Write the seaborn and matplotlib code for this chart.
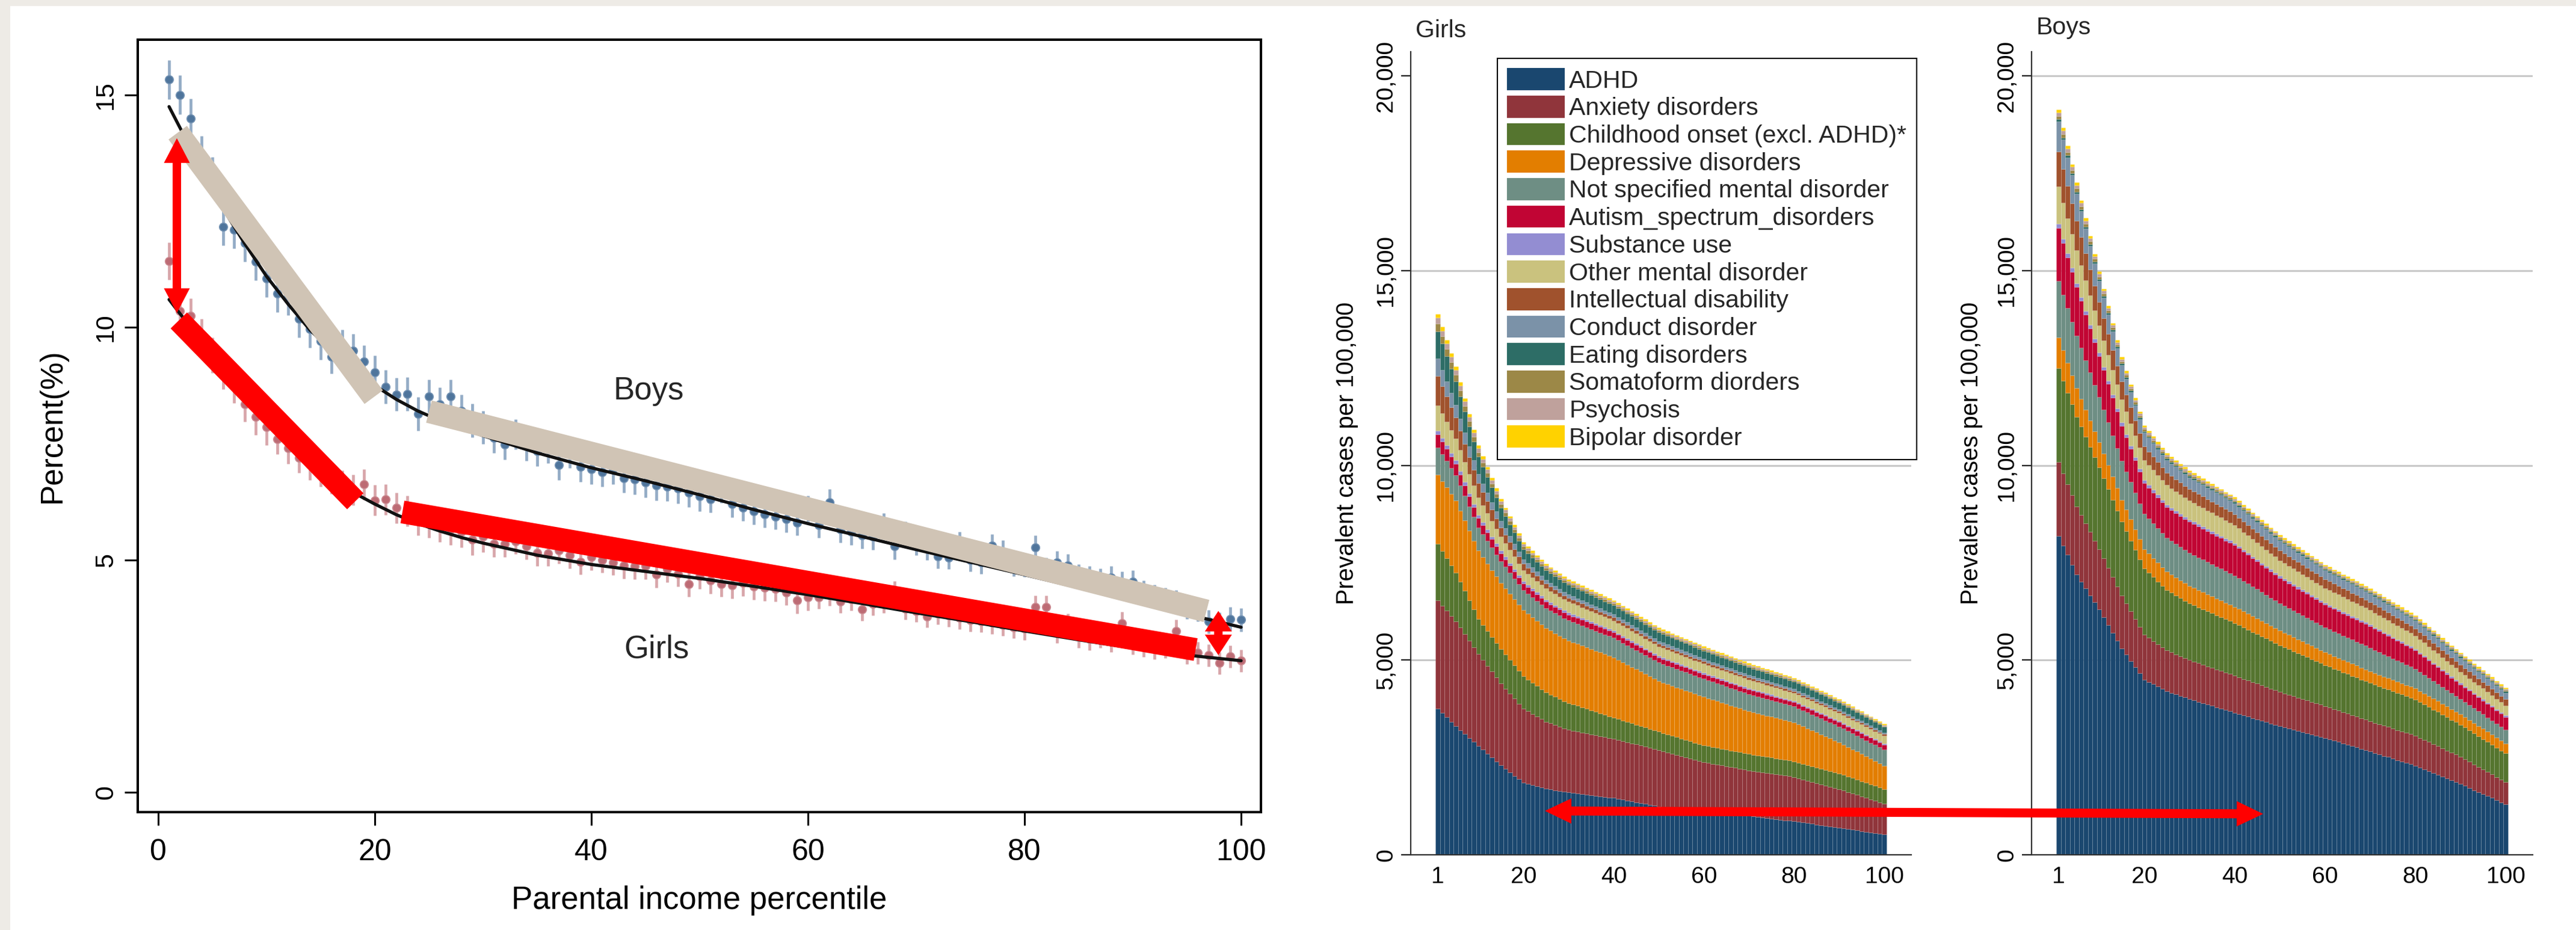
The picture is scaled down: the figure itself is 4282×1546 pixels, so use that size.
import numpy as np
import pandas as pd
import matplotlib
matplotlib.use("Agg")
import matplotlib.pyplot as plt
import seaborn as sns
from matplotlib.patches import Polygon, Rectangle, Patch
from matplotlib.transforms import IdentityTransform
from matplotlib.ticker import StrMethodFormatter

# ------------------------------------------------------------------
# Left panel: prevalence (%) by parental income percentile
# ------------------------------------------------------------------
pct = list(range(1, 101))

boys_mean = [15.33, 15.0, 14.5, 13.7, 13.25, 12.16, 12.1, 11.81, 11.41, 11.05,
             10.73, 10.66, 10.18, 9.97, 9.7, 9.37, 9.59, 9.5, 9.26, 9.03,
             8.72, 8.56, 8.57, 8.14, 8.52, 8.35, 8.52, 8.2, 8.0, 7.85,
             7.62, 7.48, 7.7, 7.45, 7.34, 7.4, 7.04, 7.3, 7.0, 6.95,
             6.89, 6.95, 6.76, 6.73, 6.66, 6.6, 6.58, 6.53, 6.45, 6.37,
             6.3, 6.5, 6.2, 6.12, 6.04, 5.98, 5.93, 5.87, 5.8, 6.1,
             5.75, 6.24, 5.65, 5.6, 5.52, 5.5, 5.72, 5.29, 5.55, 5.38,
             5.25, 5.07, 5.05, 5.35, 5.0, 4.95, 5.3, 5.17, 4.9, 4.88,
             5.27, 4.8, 4.94, 4.88, 4.65, 4.62, 4.57, 4.62, 4.5, 4.53,
             4.3, 4.22, 4.15, 4.1, 3.98, 3.92, 3.67, 3.62, 3.73, 3.71]
boys_ci = [0.42] * 5 + [0.40] * 10 + [0.36] * 15 + [0.32] * 20 + [0.28] * 20 + [0.25] * 30

girls_mean = [11.43, 10.35, 10.25, 9.8, 9.4, 9.05, 8.75, 8.35, 8.07, 7.85,
              7.6, 7.4, 7.2, 7.05, 6.9, 6.75, 6.6, 6.5, 6.62, 6.28,
              6.3, 6.12, 6.05, 5.85, 5.8, 5.72, 5.65, 5.6, 5.43, 5.5,
              5.34, 5.34, 5.4, 5.29, 5.15, 5.14, 5.2, 5.1, 4.96, 5.06,
              5.0, 4.95, 4.88, 4.86, 4.86, 4.68, 4.8, 4.7, 4.48, 4.65,
              4.55, 4.48, 4.45, 4.5, 4.42, 4.4, 4.38, 4.3, 4.13, 4.19,
              4.19, 4.25, 4.1, 4.15, 3.93, 4.05, 4.1, 4.3, 3.95, 3.9,
              3.78, 3.85, 3.8, 3.75, 3.7, 3.68, 3.65, 3.6, 3.55, 3.52,
              3.99, 3.99, 3.45, 3.6, 3.35, 3.3, 3.35, 3.25, 3.64, 3.2,
              3.15, 3.1, 3.12, 3.47, 3.0, 3.0, 2.95, 2.78, 2.92, 2.83]
girls_ci = [0.40] + [0.38] * 9 + [0.33] * 20 + [0.28] * 30 + [0.24] * 40

fit_x = [1, 2, 3, 4, 5, 6, 8, 10, 12, 14, 16, 18, 20, 22, 24, 26, 28, 30,
         35, 40, 45, 50, 55, 60, 65, 70, 75, 80, 85, 90, 95, 100]
boys_fit = [14.75, 14.3, 13.85, 13.4, 13.0, 12.55, 11.8, 11.1, 10.5, 9.95, 9.5, 9.1,
            8.75, 8.45, 8.2, 8.0, 7.83, 7.67, 7.3, 6.98, 6.7, 6.4, 6.08, 5.78,
            5.5, 5.22, 4.95, 4.68, 4.4, 4.12, 3.83, 3.55]
girls_fit = [10.6, 10.3, 10.0, 9.65, 9.3, 9.0, 8.45, 7.95, 7.5, 7.1, 6.75, 6.45,
             6.2, 5.97, 5.78, 5.62, 5.48, 5.36, 5.1, 4.9, 4.75, 4.6, 4.43, 4.25,
             4.06, 3.86, 3.67, 3.47, 3.28, 3.1, 2.95, 2.83]

# highlighted trend segments (x0, y0, x1, y1)
tan_segments = [(1.8, 14.19, 19.9, 8.5), (25.0, 8.19, 96.8, 3.90)]
red_segments = [(1.9, 10.15, 18.2, 6.26), (22.55, 6.03, 95.8, 3.07)]
# gap arrows (x, y_top, y_bottom)
gap_arrows = [(1.72, 14.07, 10.31), (97.9, 3.90, 2.95)]

# ------------------------------------------------------------------
# Right panels: prevalent cases per 100,000 by disorder
# ------------------------------------------------------------------
disorders = ["ADHD", "Anxiety disorders", "Childhood onset (excl. ADHD)*",
             "Depressive disorders", "Not specified mental disorder",
             "Autism_spectrum_disorders", "Substance use", "Other mental disorder",
             "Intellectual disability", "Conduct disorder", "Eating disorders",
             "Somatoform diorders", "Psychosis", "Bipolar disorder"]
colors = ["#1a476f", "#90353b", "#55752f", "#e37e00", "#6e8e84", "#c10534",
          "#938dd2", "#cac27e", "#a0522d", "#7b92a8", "#2d6d66", "#9c8847",
          "#bfa19c", "#ffd200"]

girls_adhd = [3750, 3640, 3530, 3410, 3300, 3200, 3100, 3000, 2900, 2800,
              2700, 2600, 2500, 2400, 2300, 2210, 2120, 2030, 1940, 1850,
              1820, 1790, 1760, 1730, 1700, 1680, 1660, 1640, 1620, 1610,
              1595, 1580, 1565, 1550, 1535, 1520, 1505, 1490, 1475, 1460,
              1438, 1416, 1394, 1372, 1350, 1328, 1306, 1284, 1262, 1240,
              1227, 1214, 1201, 1188, 1175, 1162, 1149, 1136, 1123, 1110,
              1099, 1088, 1077, 1066, 1055, 1044, 1033, 1022, 1011, 1000,
              986, 972, 958, 944, 930, 916, 902, 888, 874, 860,
              844, 828, 812, 796, 780, 764, 748, 732, 716, 700,
              682, 664, 646, 628, 610, 592, 574, 556, 538, 520]
girls_anx = [2780, 2760, 2740, 2720, 2700, 2632, 2564, 2496, 2428, 2360,
             2308, 2256, 2204, 2152, 2100, 2060, 2020, 1980, 1940, 1900,
             1864, 1828, 1792, 1756, 1720, 1696, 1672, 1648, 1624, 1600,
             1592, 1584, 1576, 1568, 1560, 1552, 1544, 1536, 1528, 1520,
             1513, 1506, 1499, 1492, 1485, 1478, 1471, 1464, 1457, 1450,
             1432, 1414, 1396, 1378, 1360, 1342, 1324, 1306, 1288, 1270,
             1260, 1250, 1240, 1230, 1220, 1210, 1200, 1190, 1180, 1170,
             1167, 1164, 1161, 1158, 1155, 1152, 1149, 1146, 1143, 1140,
             1125, 1110, 1095, 1080, 1065, 1050, 1035, 1020, 1005, 990,
             970, 950, 930, 910, 890, 870, 850, 830, 810, 790]
girls_child = [1450, 1400, 1350, 1300, 1250, 1180, 1110, 1040, 970, 900,
               896, 892, 888, 884, 880, 870, 860, 850, 840, 830,
               814, 798, 782, 766, 750, 738, 726, 714, 702, 690,
               675, 660, 645, 630, 615, 600, 585, 570, 555, 540,
               533, 526, 519, 512, 505, 498, 491, 484, 477, 470,
               466, 462, 458, 454, 450, 446, 442, 438, 434, 430,
               429, 428, 427, 426, 425, 424, 423, 422, 421, 420,
               418, 416, 414, 412, 410, 408, 406, 404, 402, 400,
               400, 400, 400, 400, 400, 400, 400, 400, 400, 400,
               398, 396, 394, 392, 390, 388, 386, 384, 382, 380]
girls_dep = [1780, 1798, 1815, 1833, 1850, 1830, 1810, 1790, 1770, 1750,
             1740, 1730, 1720, 1710, 1700, 1700, 1700, 1700, 1700, 1700,
             1690, 1680, 1670, 1660, 1650, 1640, 1630, 1620, 1610, 1600,
             1595, 1590, 1585, 1580, 1575, 1570, 1565, 1560, 1555, 1550,
             1525, 1500, 1475, 1450, 1425, 1400, 1375, 1350, 1325, 1300,
             1295, 1290, 1285, 1280, 1275, 1270, 1265, 1260, 1255, 1250,
             1235, 1220, 1205, 1190, 1175, 1160, 1145, 1130, 1115, 1100,
             1090, 1080, 1070, 1060, 1050, 1040, 1030, 1020, 1010, 1000,
             980, 960, 940, 920, 900, 880, 860, 840, 820, 800,
             780, 760, 740, 720, 700, 680, 660, 640, 620, 600]
girls_nots = [700, 688, 675, 663, 650, 640, 630, 620, 610, 600,
              592, 584, 576, 568, 560, 552, 544, 536, 528, 520,
              520, 520, 520, 520, 520, 520, 520, 520, 520, 520,
              518, 516, 514, 512, 510, 508, 506, 504, 502, 500,
              498, 496, 494, 492, 490, 488, 486, 484, 482, 480,
              478, 476, 474, 472, 470, 468, 466, 464, 462, 460,
              458, 456, 454, 452, 450, 448, 446, 444, 442, 440,
              437, 434, 431, 428, 425, 422, 419, 416, 413, 410,
              410, 409, 409, 408, 408, 407, 407, 406, 406, 405,
              406, 406, 407, 407, 408, 408, 409, 409, 410, 410]
girls_aut = [330, 320, 310, 300, 290, 280, 270, 260, 250, 240,
             232, 224, 216, 208, 200, 194, 188, 182, 176, 170,
             168, 166, 164, 162, 160, 158, 156, 154, 152, 150,
             149, 148, 147, 146, 145, 144, 143, 142, 141, 140,
             139, 138, 137, 136, 135, 134, 133, 132, 131, 130,
             129, 128, 127, 126, 125, 124, 123, 122, 121, 120,
             120, 119, 119, 118, 118, 117, 117, 116, 116, 115,
             115, 114, 114, 113, 113, 112, 112, 111, 111, 110,
             111, 111, 112, 112, 113, 113, 114, 114, 115, 115,
             117, 118, 120, 121, 123, 124, 126, 127, 129, 130]
girls_sub = [100, 98, 95, 93, 90, 88, 86, 84, 82, 80,
             78, 76, 74, 72, 70, 68, 66, 64, 62, 60,
             59, 58, 57, 56, 55, 54, 53, 52, 51, 50,
             50, 49, 49, 48, 48, 47, 47, 46, 46, 45,
             45, 44, 44, 43, 43, 42, 42, 41, 41, 40,
             40, 40, 39, 39, 39, 39, 39, 38, 38, 38,
             38, 37, 37, 37, 36, 36, 36, 35, 35, 35,
             35, 35, 34, 34, 34, 34, 34, 33, 33, 33,
             33, 33, 32, 32, 32, 31, 31, 31, 30, 30,
             30, 30, 29, 29, 29, 29, 28, 28, 28, 28]
girls_oth = [650, 628, 605, 583, 560, 538, 516, 494, 472, 450,
             432, 414, 396, 378, 360, 344, 328, 312, 296, 280,
             281, 282, 283, 284, 285, 284, 283, 282, 281, 280,
             278, 276, 274, 272, 270, 268, 266, 264, 262, 260,
             258, 256, 254, 252, 250, 248, 246, 244, 242, 240,
             239, 238, 237, 236, 235, 234, 233, 232, 231, 230,
             229, 228, 227, 226, 225, 224, 223, 222, 221, 220,
             218, 216, 214, 212, 210, 208, 206, 204, 202, 200,
             200, 200, 200, 200, 200, 200, 200, 200, 200, 200,
             200, 200, 200, 200, 200, 200, 200, 200, 200, 200]
girls_int = [750, 698, 645, 593, 540, 504, 468, 432, 396, 360,
             336, 312, 288, 264, 240, 224, 208, 192, 176, 160,
             152, 144, 136, 128, 120, 116, 112, 108, 104, 100,
             98, 96, 94, 92, 90, 88, 86, 84, 82, 80,
             79, 78, 77, 76, 75, 74, 73, 72, 71, 70,
             69, 68, 67, 66, 65, 64, 63, 62, 61, 60,
             60, 59, 59, 58, 58, 57, 57, 56, 56, 55,
             55, 54, 54, 53, 53, 52, 52, 51, 51, 50,
             50, 49, 49, 48, 48, 47, 47, 46, 46, 45,
             45, 44, 44, 43, 43, 42, 42, 41, 41, 40]
girls_cond = [450, 420, 390, 360, 330, 310, 290, 270, 250, 230,
              218, 206, 194, 182, 170, 160, 150, 140, 130, 120,
              116, 112, 108, 104, 100, 98, 96, 94, 92, 90,
              89, 88, 87, 86, 85, 84, 83, 82, 81, 80,
              79, 78, 77, 76, 75, 74, 73, 72, 71, 70,
              70, 69, 69, 68, 68, 67, 67, 66, 66, 65,
              65, 64, 64, 63, 63, 62, 62, 61, 61, 60,
              60, 59, 59, 58, 58, 57, 57, 56, 56, 55,
              55, 54, 54, 53, 53, 52, 52, 51, 51, 50,
              50, 49, 49, 48, 48, 47, 47, 46, 46, 45]
girls_eat = [700, 675, 650, 625, 600, 570, 540, 510, 480, 450,
             426, 402, 378, 354, 330, 316, 302, 288, 274, 260,
             258, 256, 254, 252, 250, 248, 246, 244, 242, 240,
             239, 238, 237, 236, 235, 234, 233, 232, 231, 230,
             229, 228, 227, 226, 225, 224, 223, 222, 221, 220,
             219, 218, 217, 216, 215, 214, 213, 212, 211, 210,
             209, 208, 207, 206, 205, 204, 203, 202, 201, 200,
             199, 198, 197, 196, 195, 194, 193, 192, 191, 190,
             188, 186, 184, 182, 180, 178, 176, 174, 172, 170,
             167, 164, 161, 158, 155, 152, 149, 146, 143, 140]
girls_som = [200, 190, 180, 170, 160, 152, 144, 136, 128, 120,
             114, 108, 102, 96, 90, 86, 82, 78, 74, 70,
             68, 66, 64, 62, 60, 59, 58, 57, 56, 55,
             55, 54, 54, 53, 53, 52, 52, 51, 51, 50,
             50, 49, 49, 48, 48, 47, 47, 46, 46, 45,
             45, 44, 44, 43, 43, 42, 42, 41, 41, 40,
             40, 40, 39, 39, 39, 39, 39, 38, 38, 38,
             38, 37, 37, 37, 36, 36, 36, 35, 35, 35,
             35, 35, 34, 34, 34, 33, 33, 33, 32, 32,
             32, 32, 32, 31, 31, 31, 31, 30, 30, 30]
girls_psy = [150, 145, 140, 135, 130, 124, 118, 112, 106, 100,
             96, 92, 88, 84, 80, 77, 74, 71, 68, 65,
             63, 61, 59, 57, 55, 54, 53, 52, 51, 50,
             50, 49, 49, 48, 48, 47, 47, 46, 46, 45,
             45, 44, 44, 43, 43, 42, 42, 41, 41, 40,
             40, 40, 39, 39, 39, 39, 39, 38, 38, 38,
             38, 37, 37, 37, 36, 36, 36, 35, 35, 35,
             35, 35, 34, 34, 34, 33, 33, 33, 32, 32,
             32, 32, 32, 31, 31, 31, 31, 30, 30, 30,
             30, 30, 29, 29, 29, 29, 28, 28, 28, 28]
girls_bip = [100, 98, 95, 93, 90, 87, 84, 81, 78, 75,
             72, 69, 66, 63, 60, 58, 56, 54, 52, 50,
             49, 48, 47, 46, 45, 44, 44, 43, 43, 42,
             42, 42, 41, 41, 41, 41, 41, 40, 40, 40,
             40, 40, 39, 39, 39, 39, 39, 38, 38, 38,
             38, 38, 37, 37, 37, 37, 37, 36, 36, 36,
             36, 36, 35, 35, 35, 35, 35, 34, 34, 34,
             34, 34, 33, 33, 33, 33, 33, 32, 32, 32,
             32, 32, 31, 31, 31, 31, 31, 30, 30, 30,
             30, 30, 29, 29, 29, 29, 29, 28, 28, 28]

boys_adhd = [8190, 7940, 7700, 7450, 7200, 7020, 6840, 6660, 6480, 6300,
             6100, 5900, 5700, 5500, 5300, 5140, 4980, 4820, 4660, 4500,
             4440, 4380, 4320, 4260, 4200, 4160, 4120, 4080, 4040, 4000,
             3970, 3930, 3900, 3860, 3830, 3790, 3760, 3720, 3690, 3650,
             3620, 3580, 3550, 3510, 3480, 3440, 3410, 3370, 3340, 3300,
             3270, 3240, 3210, 3180, 3150, 3120, 3090, 3060, 3030, 3000,
             2970, 2930, 2900, 2860, 2830, 2790, 2760, 2720, 2690, 2650,
             2610, 2580, 2540, 2510, 2470, 2430, 2400, 2360, 2330, 2290,
             2240, 2200, 2150, 2100, 2060, 2010, 1960, 1910, 1870, 1820,
             1770, 1720, 1660, 1610, 1560, 1510, 1460, 1400, 1350, 1300]
boys_anx = [1900, 1860, 1820, 1790, 1750, 1710, 1670, 1630, 1590, 1550,
            1510, 1470, 1430, 1390, 1350, 1310, 1270, 1230, 1190, 1150,
            1130, 1110, 1090, 1070, 1050, 1040, 1030, 1020, 1010, 1000,
            995, 990, 985, 980, 975, 970, 965, 960, 955, 950,
            943, 936, 929, 922, 915, 908, 901, 894, 887, 880,
            874, 868, 862, 856, 850, 844, 838, 832, 826, 820,
            816, 812, 808, 804, 800, 796, 792, 788, 784, 780,
            779, 778, 777, 776, 775, 774, 773, 772, 771, 770,
            762, 755, 747, 740, 732, 725, 717, 710, 702, 695,
            683, 670, 658, 645, 633, 620, 608, 595, 583, 570]
boys_child = [2400, 2375, 2350, 2325, 2300, 2260, 2220, 2180, 2140, 2100,
              2060, 2020, 1980, 1940, 1900, 1860, 1820, 1780, 1740, 1700,
              1670, 1640, 1610, 1580, 1550, 1530, 1510, 1490, 1470, 1450,
              1440, 1430, 1420, 1410, 1400, 1390, 1380, 1370, 1360, 1350,
              1335, 1320, 1305, 1290, 1275, 1260, 1245, 1230, 1215, 1200,
              1185, 1170, 1155, 1140, 1125, 1110, 1095, 1080, 1065, 1050,
              1043, 1036, 1029, 1022, 1015, 1008, 1001, 994, 987, 980,
              975, 970, 965, 960, 955, 950, 945, 940, 935, 930,
              920, 909, 898, 888, 877, 866, 856, 845, 835, 824,
              815, 806, 798, 789, 780, 771, 762, 754, 745, 736]
boys_dep = [800, 783, 765, 748, 730, 714, 698, 682, 666, 650,
            634, 618, 602, 586, 570, 556, 542, 528, 514, 500,
            494, 488, 482, 476, 470, 466, 462, 458, 454, 450,
            447, 444, 441, 438, 435, 432, 429, 426, 423, 420,
            416, 412, 408, 404, 400, 396, 392, 388, 384, 380,
            375, 370, 365, 360, 355, 350, 345, 340, 335, 330,
            327, 324, 321, 318, 315, 312, 309, 306, 303, 300,
            299, 297, 296, 294, 293, 291, 290, 288, 287, 285,
            284, 283, 282, 281, 280, 279, 278, 277, 276, 275,
            273, 271, 270, 268, 266, 264, 262, 261, 259, 257]
boys_nots = [1450, 1425, 1400, 1375, 1350, 1310, 1270, 1230, 1190, 1150,
             1120, 1090, 1060, 1030, 1000, 980, 960, 940, 920, 900,
             894, 888, 882, 876, 870, 866, 862, 858, 854, 850,
             845, 840, 835, 830, 825, 820, 815, 810, 805, 800,
             790, 780, 770, 760, 750, 740, 730, 720, 710, 700,
             694, 688, 682, 676, 670, 664, 658, 652, 646, 640,
             636, 632, 628, 624, 620, 616, 612, 608, 604, 600,
             590, 580, 570, 560, 550, 540, 530, 520, 510, 500,
             489, 478, 467, 456, 445, 434, 423, 412, 401, 390,
             386, 381, 377, 372, 368, 363, 359, 354, 350, 345]
boys_aut = [1350, 1325, 1300, 1275, 1250, 1210, 1170, 1130, 1090, 1050,
            1020, 990, 960, 930, 900, 880, 860, 840, 820, 800,
            798, 796, 794, 792, 790, 792, 794, 796, 798, 800,
            798, 796, 794, 792, 790, 788, 786, 784, 782, 780,
            767, 754, 741, 728, 715, 702, 689, 676, 663, 650,
            643, 636, 629, 622, 615, 608, 601, 594, 587, 580,
            578, 576, 574, 572, 570, 568, 566, 564, 562, 560,
            551, 542, 533, 524, 515, 506, 497, 488, 479, 470,
            460, 450, 440, 430, 420, 410, 400, 390, 380, 370,
            366, 363, 359, 356, 352, 349, 345, 341, 338, 334]
boys_sub = [120, 115, 110, 105, 100, 98, 96, 94, 92, 90,
            88, 86, 84, 82, 80, 78, 76, 74, 72, 70,
            69, 68, 67, 66, 65, 64, 63, 62, 61, 60,
            60, 59, 59, 58, 58, 57, 57, 56, 56, 55,
            55, 54, 54, 53, 53, 52, 52, 51, 51, 50,
            50, 49, 49, 48, 48, 47, 47, 46, 46, 45,
            45, 45, 44, 44, 44, 43, 43, 43, 42, 42,
            42, 42, 41, 41, 41, 41, 41, 40, 40, 40,
            40, 40, 40, 39, 39, 39, 39, 38, 38, 38,
            38, 38, 38, 38, 38, 37, 37, 37, 37, 37]
boys_oth = [950, 925, 900, 875, 850, 820, 790, 760, 730, 700,
            680, 660, 640, 620, 600, 584, 568, 552, 536, 520,
            516, 512, 508, 504, 500, 496, 492, 488, 484, 480,
            478, 476, 474, 472, 470, 468, 466, 464, 462, 460,
            454, 448, 442, 436, 430, 424, 418, 412, 406, 400,
            398, 396, 394, 392, 390, 388, 386, 384, 382, 380,
            379, 378, 377, 376, 375, 374, 373, 372, 371, 370,
            367, 364, 361, 358, 355, 352, 349, 346, 343, 340,
            335, 330, 325, 320, 315, 310, 305, 300, 295, 290,
            287, 283, 280, 277, 274, 270, 267, 264, 260, 257]
boys_int = [900, 863, 825, 788, 750, 720, 690, 660, 630, 600,
            570, 540, 510, 480, 450, 430, 410, 390, 370, 350,
            344, 338, 332, 326, 320, 316, 312, 308, 304, 300,
            298, 296, 294, 292, 290, 288, 286, 284, 282, 280,
            277, 274, 271, 268, 265, 262, 259, 256, 253, 250,
            248, 246, 244, 242, 240, 238, 236, 234, 232, 230,
            228, 226, 224, 222, 220, 218, 216, 214, 212, 210,
            208, 206, 204, 202, 200, 198, 196, 194, 192, 190,
            189, 187, 186, 184, 183, 181, 180, 178, 177, 175,
            174, 172, 171, 169, 168, 166, 165, 163, 162, 160]
boys_cond = [772, 754, 736, 718, 700, 670, 640, 610, 580, 550,
             524, 498, 472, 446, 420, 406, 392, 378, 364, 350,
             344, 338, 332, 326, 320, 316, 312, 308, 304, 300,
             298, 296, 294, 292, 290, 288, 286, 284, 282, 280,
             277, 274, 271, 268, 265, 262, 259, 256, 253, 250,
             248, 246, 244, 242, 240, 238, 236, 234, 232, 230,
             228, 226, 224, 222, 220, 218, 216, 214, 212, 210,
             209, 207, 206, 204, 203, 201, 200, 198, 197, 195,
             194, 192, 191, 189, 188, 186, 185, 183, 182, 180,
             178, 177, 175, 174, 172, 170, 169, 167, 166, 164]
boys_eat = [51, 50, 50, 49, 48, 47, 47, 46, 46, 45,
            44, 44, 43, 43, 42, 42, 41, 41, 40, 40,
            40, 39, 39, 38, 38, 38, 38, 38, 38, 38,
            38, 38, 37, 37, 37, 37, 37, 36, 36, 36,
            36, 36, 36, 35, 35, 35, 35, 35, 35, 35,
            35, 35, 35, 35, 35, 35, 35, 35, 35, 35,
            35, 35, 35, 35, 35, 35, 35, 35, 35, 35,
            35, 35, 35, 35, 35, 35, 35, 35, 35, 35,
            35, 35, 35, 35, 35, 35, 35, 35, 35, 35,
            35, 35, 35, 36, 36, 36, 36, 36, 36, 36]
boys_som = [88, 86, 84, 82, 80, 77, 74, 71, 68, 65,
            63, 61, 59, 57, 55, 54, 53, 52, 51, 50,
            49, 48, 48, 47, 46, 46, 46, 45, 45, 45,
            45, 44, 44, 43, 43, 42, 42, 41, 41, 40,
            40, 40, 39, 39, 39, 39, 39, 38, 38, 38,
            38, 37, 37, 37, 36, 36, 36, 35, 35, 35,
            35, 35, 34, 34, 34, 34, 34, 33, 33, 33,
            33, 33, 33, 33, 32, 32, 32, 32, 32, 32,
            32, 32, 32, 31, 31, 31, 31, 31, 31, 31,
            31, 31, 31, 30, 30, 30, 30, 30, 30, 30]
boys_psy = [93, 91, 89, 87, 85, 82, 79, 76, 73, 70,
            68, 66, 64, 62, 60, 59, 58, 57, 56, 55,
            54, 53, 52, 51, 50, 50, 49, 49, 48, 48,
            47, 47, 46, 46, 45, 45, 44, 44, 43, 42,
            42, 41, 41, 40, 40, 40, 39, 39, 38, 38,
            38, 37, 37, 37, 36, 36, 36, 35, 35, 35,
            35, 35, 34, 34, 34, 34, 34, 33, 33, 33,
            33, 33, 33, 33, 32, 32, 32, 32, 32, 32,
            32, 32, 32, 31, 31, 31, 31, 31, 31, 31,
            31, 31, 31, 30, 30, 30, 30, 30, 30, 30]
boys_bip = [77, 75, 74, 72, 70, 68, 66, 64, 62, 60,
            59, 58, 57, 56, 55, 54, 53, 52, 51, 50,
            49, 49, 48, 48, 47, 47, 46, 46, 45, 45,
            45, 44, 44, 44, 43, 43, 43, 42, 42, 42,
            42, 42, 41, 41, 41, 41, 41, 40, 40, 40,
            40, 40, 39, 39, 39, 39, 38, 38, 38, 38,
            38, 38, 38, 38, 37, 37, 37, 37, 37, 37,
            37, 37, 36, 36, 36, 36, 36, 36, 36, 36,
            36, 36, 36, 36, 35, 35, 35, 35, 35, 35,
            35, 35, 35, 35, 35, 35, 35, 35, 35, 35]

girls_layers = [girls_adhd, girls_anx, girls_child, girls_dep, girls_nots, girls_aut,
                girls_sub, girls_oth, girls_int, girls_cond, girls_eat, girls_som,
                girls_psy, girls_bip]
boys_layers = [boys_adhd, boys_anx, boys_child, boys_dep, boys_nots, boys_aut,
               boys_sub, boys_oth, boys_int, boys_cond, boys_eat, boys_som,
               boys_psy, boys_bip]

bar_xticks = [1, 20, 40, 60, 80, 100]
bar_yticks = [0, 5000, 10000, 15000, 20000]
girls_grid = [5000, 10000, 15000]
boys_grid = [5000, 10000, 15000, 20000]

# ------------------------------------------------------------------
# Figure
# ------------------------------------------------------------------
sns.set_theme(style="white")
plt.rcParams["font.family"] = ["Liberation Sans", "DejaVu Sans"]

W, H = 4282, 1546
fig = plt.figure(figsize=(W / 100, H / 100), dpi=100)
fig.patch.set_facecolor("white")


def px_box(x0, y0, x1, y1):
    # pixel box (top-left origin) -> figure fraction rect
    return [x0 / W, 1 - y1 / H, (x1 - x0) / W, (y1 - y0) / H]


def double_arrow(p0, p1, shaft, head_w, head_l, color="red"):
    # filled double-headed arrow in display (pixel) coordinates
    p0 = np.asarray(p0, float)
    p1 = np.asarray(p1, float)
    d = p1 - p0
    u = d / np.hypot(*d)
    n = np.array([-u[1], u[0]])
    a0 = p0 + head_l * u
    a1 = p1 - head_l * u
    pts = [p0, a0 + n * head_w / 2, a0 + n * shaft / 2, a1 + n * shaft / 2,
           a1 + n * head_w / 2, p1, a1 - n * head_w / 2, a1 - n * shaft / 2,
           a0 - n * shaft / 2, a0 - n * head_w / 2]
    fig.add_artist(Polygon(pts, closed=True, facecolor=color, edgecolor="none",
                           transform=IdentityTransform(), zorder=20))


# light frame strips of the original composite
fig.add_artist(Rectangle((0, 1 - 10 / H), 1, 10 / H, transform=fig.transFigure,
                         facecolor="#eeebe6", edgecolor="none", zorder=0))
fig.add_artist(Rectangle((0, 0), 17 / W, 1, transform=fig.transFigure,
                         facecolor="#eeebe6", edgecolor="none", zorder=0))

# ---------------- left panel ----------------
ax = fig.add_axes(px_box(229, 66, 2096, 1350))
ax.set_facecolor("white")
left_df = pd.DataFrame({"pct": pct, "boys": boys_mean, "girls": girls_mean})

ax.errorbar(pct, boys_mean, yerr=boys_ci, fmt="none", ecolor="#8ea8c3",
            elinewidth=3.4, capsize=0, alpha=0.95, zorder=2)
ax.errorbar(pct, girls_mean, yerr=girls_ci, fmt="none", ecolor="#d6a1a6",
            elinewidth=3.4, capsize=0, alpha=0.95, zorder=2)
sns.scatterplot(data=left_df, x="pct", y="boys", ax=ax, color="#4f759c", s=95,
                edgecolor="#7392b3", linewidth=1.2, zorder=3)
sns.scatterplot(data=left_df, x="pct", y="girls", ax=ax, color="#bd6b74", s=95,
                edgecolor="#cc8a91", linewidth=1.2, zorder=3)
sns.lineplot(x=fit_x, y=boys_fit, ax=ax, color="#111111", lw=3.8, zorder=4)
sns.lineplot(x=fit_x, y=girls_fit, ax=ax, color="#111111", lw=3.8, zorder=4)

for x0, y0, x1, y1 in tan_segments:
    ax.plot([x0, x1], [y0, y1], color="#d0c4b5", lw=27.4,
            solid_capstyle="butt", zorder=5)
for x0, y0, x1, y1 in red_segments:
    ax.plot([x0, x1], [y0, y1], color="#ff0000", lw=27.4,
            solid_capstyle="butt", zorder=5)

ax.text(45.3, 8.63, "Boys", fontsize=38, ha="center", va="center", zorder=6)
ax.text(46.0, 3.08, "Girls", fontsize=38, ha="center", va="center", zorder=6)

ax.set_xlim(-1.89, 101.83)
ax.set_ylim(-0.427, 16.19)
ax.set_xticks([0, 20, 40, 60, 80, 100])
ax.set_yticks([0, 5, 10, 15])
ax.tick_params(axis="x", direction="out", length=15.8, width=2.2, pad=16,
               labelsize=36, colors="black", bottom=True)
ax.tick_params(axis="y", direction="out", length=15.8, width=2.2, pad=8,
               labelsize=31, colors="black", labelrotation=90, left=True)
for lbl in ax.get_yticklabels():
    lbl.set_va("center")
for sp in ax.spines.values():
    sp.set_visible(True)
    sp.set_color("black")
    sp.set_linewidth(2.9)
ax.set_xlabel("Parental income percentile", fontsize=38, color="black")
ax.set_ylabel("Percent(%)", fontsize=37, color="black")
ax.xaxis.set_label_coords(0.5, -0.095)
ax.yaxis.set_label_coords(-0.0627, 0.5)

for x, ya, yb in gap_arrows:
    pa = ax.transData.transform((x, ya))
    pb = ax.transData.transform((x, yb))
    if abs(ya - yb) > 2:
        double_arrow(pa, pb, shaft=14, head_w=43, head_l=41)
    else:
        double_arrow(pa, pb, shaft=14, head_w=45, head_l=34)

# ---------------- right panels ----------------
ax_g = fig.add_axes(px_box(2345, 86, 3177, 1421))
ax_b = fig.add_axes(px_box(3377, 86, 4210, 1421))

for axr, layers, grid, title, tx, ty in [(ax_g, girls_layers, girls_grid, "Girls", 2353, 62),
                                        (ax_b, boys_layers, boys_grid, "Boys", 3385, 57)]:
    axr.set_facecolor("white")
    for g in grid:
        axr.axhline(g, color="#c4c4c4", lw=2.0, zorder=0)
    bottom = np.zeros(len(pct))
    for vals, c in zip(layers, colors):
        axr.bar(pct, vals, width=1.0, bottom=bottom, color=c,
                edgecolor=(1, 1, 1, 0.10), linewidth=0.7, zorder=2)
        bottom = bottom + np.asarray(vals)
    axr.set_xlim(-5, 106)
    axr.set_ylim(0, 20620)
    axr.set_xticks(bar_xticks)
    axr.set_yticks(bar_yticks)
    axr.yaxis.set_major_formatter(StrMethodFormatter("{x:,.0f}"))
    axr.tick_params(axis="x", length=0, pad=14, labelsize=28, colors="black")
    axr.tick_params(axis="y", direction="out", length=11.5, width=1.5, pad=5,
                    labelsize=28, colors="black", labelrotation=90, left=True)
    for lbl in axr.get_yticklabels():
        lbl.set_va("center")
    for side in ["top", "right"]:
        axr.spines[side].set_visible(False)
    for side in ["left", "bottom"]:
        axr.spines[side].set_visible(True)
        axr.spines[side].set_color("#333333")
        axr.spines[side].set_linewidth(1.6)
    axr.set_ylabel("Prevalent cases per 100,000", fontsize=28.5, color="black")
    axr.set_xlabel("")
    fig.text(tx / W, 1 - ty / H, title, fontsize=29.5, ha="left", va="baseline")

ax_g.yaxis.set_label_coords(-0.1046, 0.5)
ax_b.yaxis.set_label_coords(-0.0972, 0.5)

handles = [Patch(facecolor=c, edgecolor="none") for c in colors]
leg = ax_g.legend(handles, disorders, loc="upper left", bbox_to_anchor=(0.173, 0.9918),
                  frameon=True, fancybox=False, edgecolor="black", framealpha=1,
                  fontsize=29.5, handlelength=2.33, handleheight=1.0, labelspacing=0.13,
                  handletextpad=0.18, borderpad=0.4, borderaxespad=0)
leg.get_frame().set_linewidth(1.5)
leg.set_zorder(10)

# red arrow across both bar panels (pixel coordinates, y up)
double_arrow((2568, H - 1348), (3762, H - 1353), shaft=15, head_w=42, head_l=44)

fig.savefig("out.png", dpi=100)
